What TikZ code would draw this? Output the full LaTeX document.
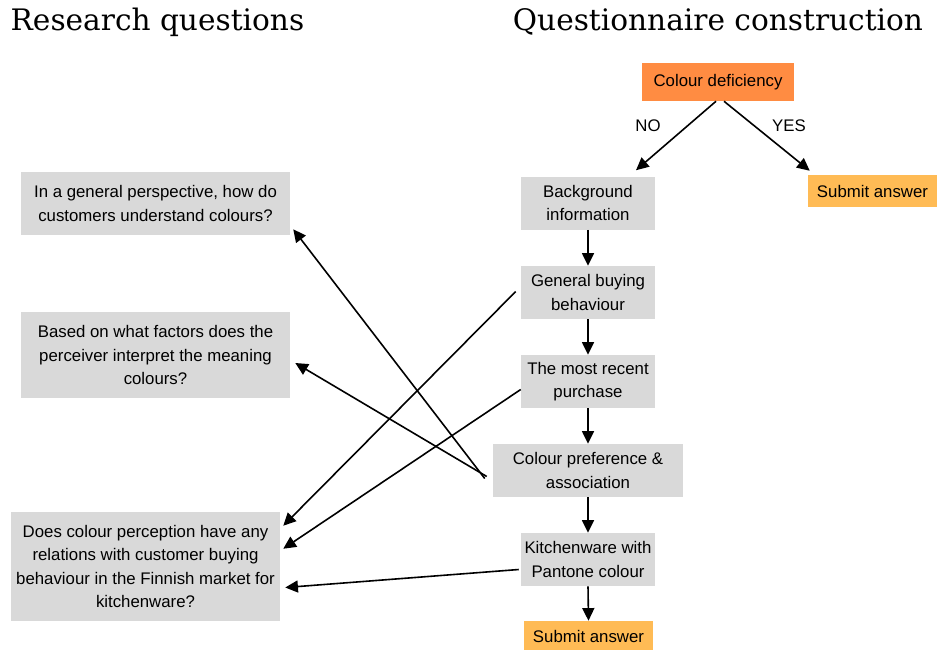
\documentclass[tikz,border=0pt]{standalone}
\usepackage{fontspec}
\setmainfont{Liberation Sans}
\newfontfamily\titlefont{DejaVu Serif}
\usetikzlibrary{arrows.meta,calc}
\definecolor{boxgrey}{RGB}{217,217,217}
\definecolor{deforange}{RGB}{255,140,66}
\definecolor{submitorange}{RGB}{255,187,85}
\tikzset{
	box/.style={fill=boxgrey, align=center, inner sep=0pt, font=\fontsize{12.6}{17.6}\selectfont},
	title/.style={font=\titlefont\fontsize{22.2}{24}\selectfont},
	lbl/.style={font=\fontsize{12.6}{15}\selectfont},
	arr/.style={line width=1.2pt, -{Triangle[length=9.5pt,width=9pt]}},
}

\begin{document}
\begin{tikzpicture}[x=0.75pt,y=-0.75pt]
		%%%%% START %%%%%
		\useasboundingbox (0,0) rectangle (937,649);
		
		\node[title, anchor=west] (rqtitle) at (6,22) {Research questions};
		\node[title] (qctitle) at (718,22) {Questionnaire construction};
		
		%% questionnaire
		\node[box, fill=deforange, minimum width=114pt, minimum height=28.5pt] (def) at (718,82) {Colour deficiency};
		\node[lbl] (nolbl) at (648,126) {NO};
		\node[lbl] (yeslbl) at (789,126) {YES};
		\node[box, fill=submitorange, minimum width=96.75pt, minimum height=24pt] (subr) at (872.5,191) {Submit answer};
		
		\node[box, minimum width=100.5pt, minimum height=39.75pt] (bg) at (588,203) {Background\\information};
		\node[box, minimum width=100.5pt, minimum height=39.75pt] (gen) at (588,292.5) {General buying\\behaviour};
		\node[box, minimum width=100.5pt, minimum height=39.75pt] (rec) at (588,381.5) {The most recent\\purchase};
		\node[box, minimum width=142.5pt, minimum height=39.75pt] (pref) at (588,470.5) {Colour preference \&\\association};
		\node[box, minimum width=100.5pt, minimum height=39.75pt] (kit) at (588,559.5) {Kitchenware with\\Pantone colour};
		\node[box, fill=submitorange, minimum width=96.75pt, minimum height=22.5pt] (subb) at (588.5,636) {Submit answer};
		
		%% research questions
		\node[box, minimum width=201.75pt, minimum height=47.25pt] (q1) at (155.5,203.5) {In a general perspective, how do\\customers understand colours?};
		\node[box, minimum width=201.75pt, minimum height=64.5pt] (q2) at (155.5,355) {Based on what factors does the\\perceiver interpret the meaning\\colours?};
		\node[box, minimum width=201.75pt, minimum height=81.75pt] (q3) at (145.5,566.5) {Does colour perception have any\\relations with customer buying\\behaviour in the Finnish market for\\kitchenware?};
		
		%% arrows
		\draw[arr] ($(def.south)+(-2,0)$) -- ($(bg.north)+(48,-6)$);
		\draw[arr] ($(def.south)+(6,0)$) -- ($(subr.north west)+(2,-4)$);
		\draw[arr] (bg.south) -- (gen.north);
		\draw[arr] (gen.south) -- (rec.north);
		\draw[arr] (rec.south) -- (pref.north);
		\draw[arr] (pref.south) -- (kit.north);
		\draw[arr] (kit.south) -- (subb.north);
		
		\draw[arr] ($(pref.west)+(-8,8)$) -- ($(q1.south east)+(3,-6)$);
		\draw[arr] ($(pref.west)+(-6,6)$) -- ($(q2.east)+(5,8)$);
		\draw[arr] ($(gen.west)+(-5,-1)$) -- ($(q3.north east)+(3,14)$);
		\draw[arr] ($(rec.west)+(0,8)$) -- ($(q3.north east)+(3,37)$);
		\draw[arr] ($(kit.west)+(-2,10)$) -- ($(q3.east)+(5,21)$);
		
		%%%%% END %%%%%
\end{tikzpicture}
\end{document}
